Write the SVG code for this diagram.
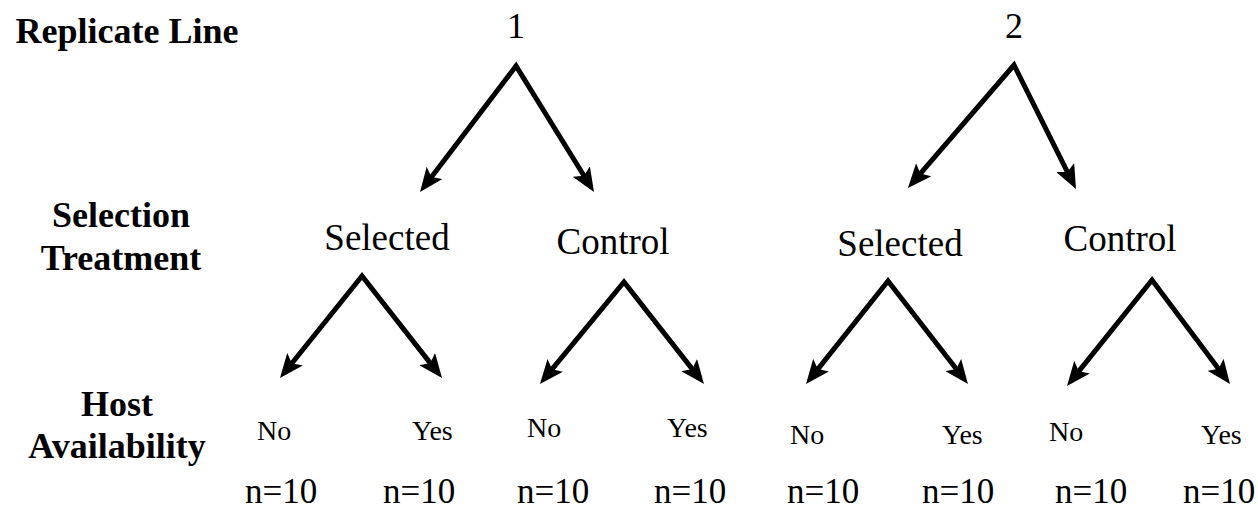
<svg xmlns="http://www.w3.org/2000/svg" width="1258" height="516" viewBox="0 0 1258 516">
<defs>
<marker id="ah" markerUnits="userSpaceOnUse" markerWidth="24" markerHeight="20" viewBox="0 0 24 20" refX="12" refY="10" orient="auto-start-reverse">
<path d="M0,0 L24,10 L0,20 L5,10 Z" fill="#000"/>
</marker>
</defs>
<rect width="1258" height="516" fill="#fff"/>
<g id="row-labels" font-family="Liberation Serif" font-weight="bold" font-size="36" text-anchor="middle" fill="#000">
<text x="127" y="43">Replicate Line</text>
<text x="121" y="227">Selection</text>
<text x="121" y="270">Treatment</text>
<text x="117" y="416">Host</text>
<text x="117" y="458">Availability</text>
</g>
<g font-family="Liberation Serif" font-size="36" text-anchor="middle" fill="#000">
<g id="line1"><text x="516" y="38">1</text></g>
<g id="line2"><text x="1014" y="38">2</text></g>
</g>
<g font-family="Liberation Serif" font-size="37" text-anchor="middle" fill="#000">
<g id="sel1"><text x="387" y="250">Selected</text></g>
<g id="ctl1"><text x="613" y="254">Control</text></g>
<g id="sel2"><text x="900" y="256">Selected</text></g>
<g id="ctl2"><text x="1120" y="251">Control</text></g>
</g>
<g font-family="Liberation Serif" fill="#000">
<g id="no1"><text font-size="28" x="257" y="440">No</text><text font-size="35" x="245" y="503">n=10</text></g>
<g id="yes1"><text font-size="28" x="412" y="440">Yes</text><text font-size="35" x="383" y="503">n=10</text></g>
<g id="no2"><text font-size="28" x="527" y="437">No</text><text font-size="35" x="517" y="503">n=10</text></g>
<g id="yes2"><text font-size="28" x="667" y="437">Yes</text><text font-size="35" x="654" y="503">n=10</text></g>
<g id="no3"><text font-size="28" x="790" y="444">No</text><text font-size="35" x="787" y="503">n=10</text></g>
<g id="yes3"><text font-size="28" x="942" y="444">Yes</text><text font-size="35" x="922" y="503">n=10</text></g>
<g id="no4"><text font-size="28" x="1049" y="441">No</text><text font-size="35" x="1055" y="503">n=10</text></g>
<g id="yes4"><text font-size="28" x="1201" y="444">Yes</text><text font-size="35" x="1183" y="503">n=10</text></g>
</g>
<g id="connectors" fill="none" stroke="#000" stroke-width="5" stroke-linejoin="miter" stroke-miterlimit="10" marker-start="url(#ah)" marker-end="url(#ah)">
<path d="M427.3,182.5 L516,66 L587.7,181.8"/>
<path d="M915.8,178.9 L1014,65 L1070.6,178.3"/>
<path d="M287.5,368.7 L362,276 L434.6,368.6"/>
<path d="M547.6,374.7 L624,282 L696.6,374.6"/>
<path d="M813.5,374.6 L888,281 L960.6,374.5"/>
<path d="M1074.5,376.6 L1152,280 L1222.8,374.4"/>
</g>
</svg>
